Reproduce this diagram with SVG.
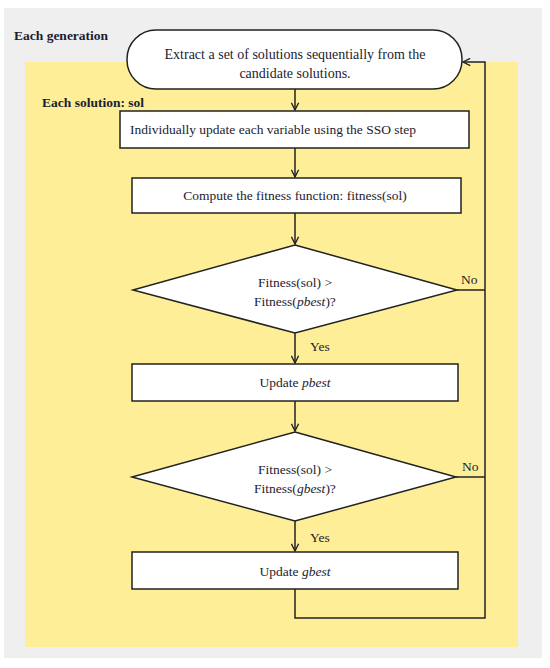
<svg xmlns="http://www.w3.org/2000/svg" width="550" height="668" viewBox="0 0 550 668">
<style>
text{font-family:"Liberation Serif","Times New Roman",serif;font-size:13.5px;fill:#1c1c30}
.b{font-weight:bold}
.c{text-anchor:middle}
.node{fill:#fff;stroke:#222;stroke-width:1.5}
.ln{fill:none;stroke:#222;stroke-width:1.5}
</style>
<defs>
<marker id="ar" viewBox="0 0 10 10" refX="9" refY="5" markerWidth="9" markerHeight="9" markerUnits="userSpaceOnUse" orient="auto">
<path d="M1,1 L9,5 L1,9" fill="none" stroke="#222" stroke-width="1.5"/>
</marker>
</defs>
<rect x="0" y="0" width="550" height="668" fill="#fff"/>
<rect x="4" y="8" width="538" height="650" fill="#efefef"/>
<rect x="25" y="62" width="493" height="585" fill="#fdee97"/>
<text class="b" x="14" y="40">Each generation</text>
<text class="b" x="42" y="107">Each solution: sol</text>
<g id="connectors">
<line class="ln" x1="295" y1="89" x2="295" y2="110" marker-end="url(#ar)"/>
<line class="ln" x1="295" y1="148" x2="295" y2="177" marker-end="url(#ar)"/>
<line class="ln" x1="295" y1="213" x2="295" y2="244" marker-end="url(#ar)"/>
<line class="ln" x1="295" y1="333" x2="295" y2="363" marker-end="url(#ar)"/>
<line class="ln" x1="295" y1="401" x2="295" y2="431" marker-end="url(#ar)"/>
<line class="ln" x1="295" y1="521" x2="295" y2="551" marker-end="url(#ar)"/>
<polyline class="ln" points="457,290 485,290"/>
<polyline class="ln" points="456,477 485,477"/>
<polyline class="ln" points="295,589 295,618 485,618 485,62 463,62" marker-end="url(#ar)"/>
<text x="461" y="284">No</text>
<text x="462" y="471">No</text>
<text x="310" y="351">Yes</text>
<text x="310" y="542">Yes</text>
</g>
<g id="start">
<rect class="node" x="127" y="30" width="335" height="59" rx="29" ry="29"/>
<text class="c" x="295" y="59" style="font-size:14px">Extract a set of solutions sequentially from the</text>
<text class="c" x="295" y="78" style="font-size:14px">candidate solutions.</text>
</g>
<g id="update-vars">
<rect class="node" x="120" y="111" width="349" height="37"/>
<text x="130" y="134">Individually update each variable using the SSO step</text>
</g>
<g id="compute-fitness">
<rect class="node" x="132" y="178" width="329" height="35"/>
<text class="c" x="295" y="200">Compute the fitness function: fitness(sol)</text>
</g>
<g id="check-pbest">
<polygon class="node" points="295,245 457,290 295,333 133,290"/>
<text class="c" x="295" y="287">Fitness(sol) &gt;</text>
<text class="c" x="295" y="306">Fitness(<tspan font-style="italic">pbest</tspan>)?</text>
</g>
<g id="update-pbest">
<rect class="node" x="132" y="364" width="326" height="37"/>
<text class="c" x="295" y="387">Update <tspan font-style="italic">pbest</tspan></text>
</g>
<g id="check-gbest">
<polygon class="node" points="295,432 456,477 295,521 132,477"/>
<text class="c" x="295" y="474">Fitness(sol) &gt;</text>
<text class="c" x="295" y="493">Fitness(<tspan font-style="italic">gbest</tspan>)?</text>
</g>
<g id="update-gbest">
<rect class="node" x="132" y="552" width="326" height="37"/>
<text class="c" x="295" y="576">Update <tspan font-style="italic">gbest</tspan></text>
</g>
</svg>
